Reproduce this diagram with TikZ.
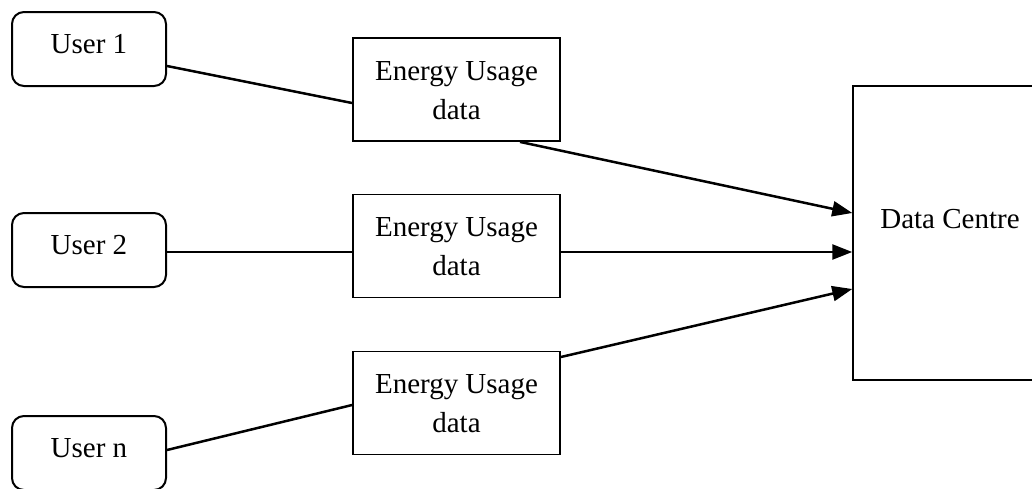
\documentclass[tikz,border=0pt]{standalone}
\usepackage{fontspec}
\setmainfont{Liberation Serif}
\usetikzlibrary{arrows.meta,calc}
\begin{document}
\begin{tikzpicture}[x=0.5pt,y=-0.5pt,
  every node/.style={font=\fontsize{14.5}{19.5}\selectfont, inner sep=0pt},
  userbox/.style={draw, line width=1pt, rounded corners=6pt, minimum width=77pt, minimum height=37pt, text height=10pt, text depth=6pt},
  databox/.style={draw, line width=0.9pt, minimum width=103.5pt, minimum height=51.5pt, text height=10pt, text depth=19.5pt},
  centrebox/.style={draw, line width=0.75pt, minimum width=97pt, minimum height=147pt, text height=4pt, text depth=9pt},
  link/.style={line width=1.25pt},
  arr/.style={line width=1.25pt, -{Triangle[length=10pt,width=7.5pt]}}]
\useasboundingbox (0,0) rectangle (1032,488);
\begin{scope}
\clip (0,0) rectangle (1032,488);
\node[userbox] (u1) at (89,49) {User 1};
\node[userbox] (u2) at (89,250) {User 2};
\node[userbox] (un) at (89,453) {User n};
\node[databox] (e1) at (456.5,89.5) {\begin{tabular}[t]{@{}c@{}}Energy Usage\\ data\end{tabular}};
\node[databox] (e2) at (456.5,246) {\begin{tabular}[t]{@{}c@{}}Energy Usage\\ data\end{tabular}};
\node[databox] (e3) at (456.5,403) {\begin{tabular}[t]{@{}c@{}}Energy Usage\\ data\end{tabular}};
\node[centrebox] (dc) at (950,233) {Data Centre};
\draw[link] ([yshift=-8.5pt]u1.east) -- ([yshift=-6.75pt]e1.west);
\draw[link] ([yshift=-1pt]u2.east) -- ([yshift=-1pt]u2.east -| e2.west);
\draw[link] ([yshift=1.5pt]un.east) -- ([yshift=-1pt]e3.west);
\draw[arr] ([xshift=31.75pt]e1.south) -- ([yshift=10pt]dc.west);
\draw[arr] ([yshift=-3pt]e2.east) -- ([yshift=-3pt]e2.east -| dc.west);
\draw[arr] ([yshift=23pt]e3.east) -- ([yshift=-28pt]dc.west);
\end{scope}
\end{tikzpicture}
\end{document}
